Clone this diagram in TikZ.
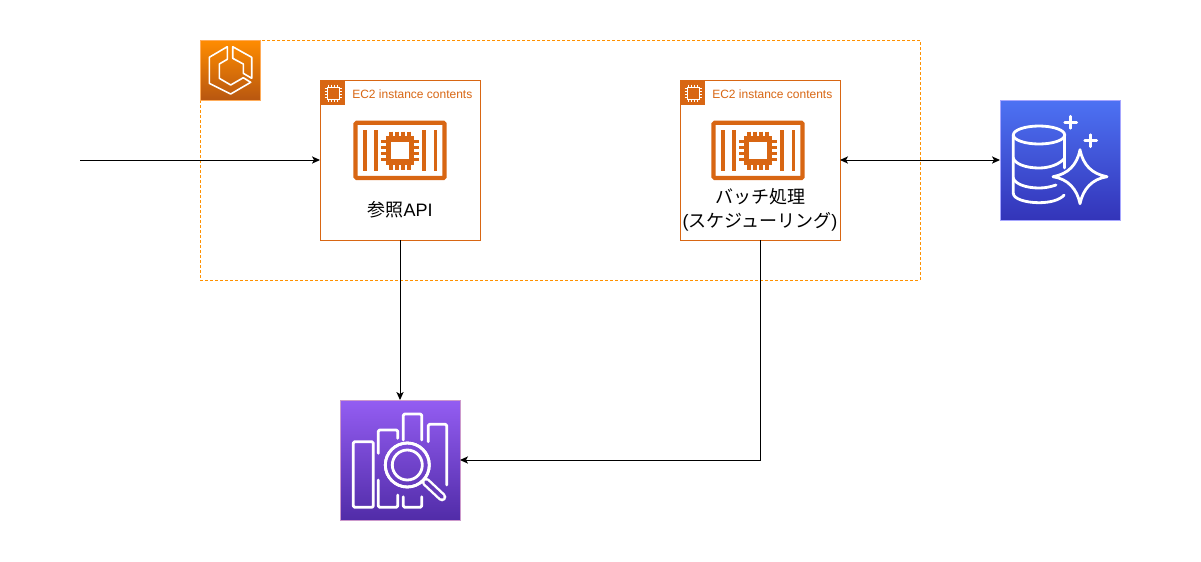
\documentclass[tikz,border=0pt]{standalone}
\usepackage{fontspec}
\setmainfont{Liberation Sans}
\newfontfamily\cjk{Noto Sans CJK JP}
\usetikzlibrary{positioning, arrows.meta}
\definecolor{ec2orange}{HTML}{D86613}
\definecolor{grouporange}{HTML}{FF9100}
\definecolor{handlepurple}{HTML}{6438B8}
\newcommand{\bigchip}[1]{%
  \begin{scope}[shift={(#1)}]
    \draw[ec2orange, line width=3.2pt, rounded corners=1pt] (-44.5,-37.3) rectangle (44.6,18);
    \foreach \barx in {-35,-24,24.3,35.6}
      \draw[ec2orange, line width=2.8pt] (\barx,-30) -- (\barx,10.7);
    \draw[ec2orange, line width=3.9pt] (-11.5,-21) rectangle (11.5,2);
    \foreach \pin in {-9,-3,3,9} {
      \draw[ec2orange, line width=2.5pt] (\pin,-28.5) -- (\pin,-22);
      \draw[ec2orange, line width=2.5pt] (\pin,3) -- (\pin,9.5);
      \draw[ec2orange, line width=2.5pt] (-19,-9.5+\pin) -- (-12.5,-9.5+\pin);
      \draw[ec2orange, line width=2.5pt] (12.5,-9.5+\pin) -- (19,-9.5+\pin);
    }
  \end{scope}}
\newcommand{\smallchip}[1]{%
  \begin{scope}[shift={(#1)}]
    \draw[white, line width=0.6pt] (7,7) rectangle (19,19);
    \foreach \pin in {-4.5,-1.5,1.5,4.5} {
      \draw[white, line width=0.3pt] (13+\pin,4.5) -- (13+\pin,7);
      \draw[white, line width=0.3pt] (13+\pin,19) -- (13+\pin,21.5);
      \draw[white, line width=0.3pt] (4.5,13+\pin) -- (7,13+\pin);
      \draw[white, line width=0.3pt] (19,13+\pin) -- (21.5,13+\pin);
    }
  \end{scope}}
\begin{document}
\begin{tikzpicture}[
    x=0.75pt, y=-0.75pt,
    >={Stealth[length=6pt, width=5.4pt, inset=1.5pt]},
    instancebox/.style={draw=ec2orange, rectangle, minimum width=120pt, minimum height=120pt,
                        inner sep=0pt, outer sep=0pt, line width=0.75pt, fill=white},
    chipbox/.style={rectangle, fill=ec2orange, minimum width=18.6pt, minimum height=18.6pt,
                    inner sep=0pt, outer sep=0pt, anchor=north west},
    titlelabel/.style={text=ec2orange, font=\fontsize{9}{11}\selectfont, inner sep=0pt, anchor=west},
    mainlabel/.style={align=center, font=\fontsize{13.5}{18}\selectfont, inner sep=0pt},
    iconbox/.style={rectangle, minimum width=90pt, minimum height=90pt, inner sep=0pt, outer sep=0pt,
                    line width=0.75pt},
    iconline/.style={draw=white, line width=2.1pt, line join=round, line cap=round},
    conn/.style={black, line width=0.75pt}
  ]
  \useasboundingbox (0,0) rectangle (1201,561);
  \draw[grouporange, line width=0.75pt, dash pattern=on 2.25pt off 1.5pt] (200,40) rectangle (920,280);

  \node[iconbox, minimum width=45pt, minimum height=45pt, anchor=north west, draw=orange!65!white,
        top color=orange!90!yellow, bottom color=ec2orange!85!black] (clustericon) at (200,40) {};
  \begin{scope}[shift={(clustericon.north west)}]
    \draw[iconline, line width=1.2pt, line cap=butt] (27.3,6.7) -- (9.3,17.3) -- (9.3,43.3) -- (30.7,54) -- (50.7,42.3)
      -- (43.3,37.7) -- (30.7,45) -- (19.3,38.3) -- (19.3,24) -- (27.3,19.3) -- cycle;
    \draw[iconline, line width=1.2pt, line cap=butt] (32.7,6.7) -- (51.7,17.3) -- (51.7,38.3) -- (43.3,33.3)
      -- (43.3,24) -- (32.7,18.3) -- cycle;
  \end{scope}

  \node[instancebox] (refapi) at (400,160) {};
  \node[instancebox, right=150pt of refapi] (batch) {};
  \node[iconbox, right=120pt of batch, draw=blue!35!white,
        top color={rgb,255:red,77;green,114;blue,243}, bottom color={rgb,255:red,51;green,52;blue,185}] (dbicon) {};
  \node[iconbox, below=120pt of refapi, draw=violet!40!white,
        top color={rgb,255:red,148;green,93;blue,242}, bottom color={rgb,255:red,81;green,44;blue,168}] (searchicon) {};

  % instance contents
  \node[chipbox] (refapichip) at (refapi.north west) {};
  \node[titlelabel] (refapititle) at (352,94) {EC2 instance contents};
  \smallchip{refapi.north west}
  \bigchip{refapi.center}
  \node[mainlabel] (refapilabel) at (400,209.5) {{\cjk 参照}API};

  \node[chipbox] (batchchip) at (batch.north west) {};
  \node[titlelabel] (batchtitle) at (712,94) {EC2 instance contents};
  \smallchip{batch.north west}
  \bigchip{[xshift=-1.5pt]batch.center}
  \node[mainlabel] (batchlabel) at (760,209.5) {{\cjk バッチ処理}\\({\cjk スケジューリング})};

  % db icon
  \begin{scope}[shift={(dbicon.north west)}]
    \draw[iconline] (39,35) ellipse [x radius=25.7, y radius=9];
    \draw[iconline] (13.3,35) -- (13.3,93.3) .. controls (13.3,99) and (26,102.7) .. (39,102.7)
      .. controls (50,102.7) and (60,100) .. (64,95);
    \draw[iconline] (64.7,35) -- (64.7,68);
    \draw[iconline] (13.3,58) .. controls (15,64) and (26,68) .. (39,68) .. controls (50,68) and (60,64) .. (64.7,58);
    \draw[iconline] (13.3,78) .. controls (15,84) and (26,88) .. (39,88) .. controls (45,88) and (50,87) .. (56,85);
    \draw[iconline] (80,49.7) .. controls (83,65) and (92,74) .. (107,76.7) .. controls (92,79) and (83,89) .. (80,103.7)
      .. controls (77,89) and (68,79) .. (53,76.7) .. controls (68,74) and (77,65) .. cycle;
    \draw[iconline] (64.7,22.3) -- (76.7,22.3) (70.7,16.3) -- (70.7,28.3);
    \draw[iconline] (84.7,40.7) -- (96.7,40.7) (90.7,34.7) -- (90.7,46.7);
  \end{scope}

  % search icon
  \begin{scope}[shift={(searchicon.north west)}]
    \draw[iconline, rounded corners=1pt] (13.3,41.7) rectangle (33.3,107.3);
    \draw[iconline, rounded corners=1pt] (38.3,53.3) -- (38.3,30) -- (57.7,30) -- (57.7,38.3);
    \draw[iconline, rounded corners=1pt] (38.3,80) -- (38.3,107.3) -- (57.7,107.3) -- (57.7,95);
    \draw[iconline, rounded corners=1pt] (63.3,40) -- (63.3,14) -- (81.7,14) -- (81.7,40);
    \draw[iconline, rounded corners=1pt] (63.3,96.7) -- (63.3,107.3) -- (81.7,107.3) -- (81.7,96.7);
    \draw[iconline, rounded corners=1pt] (88.3,41.7) -- (88.3,24.3) -- (106.7,24.3) -- (106.7,85);
    \draw[iconline] (67.3,65) circle [radius=22];
    \draw[iconline] (67.3,65) circle [radius=15];
    \draw[white, line width=6.5pt, line cap=round] (86,82) -- (102,97);
    \draw[handlepurple, line width=2.8pt, line cap=round] (86,82) -- (102,97);
    \draw[iconline] (67.3,65) circle [radius=22];
  \end{scope}

  % connectors
  \coordinate (client) at (80,160);
  \coordinate (bend) at (760,460);
  \draw[conn, ->] (client) -- (refapi.west);
  \draw[conn, ->] (refapi.south) -- (searchicon.north);
  \draw[conn, ->] (batch.south) -- (bend) -- (searchicon.east);
  \draw[conn, <->] (batch.east) -- (dbicon.west);
\end{tikzpicture}
\end{document}
